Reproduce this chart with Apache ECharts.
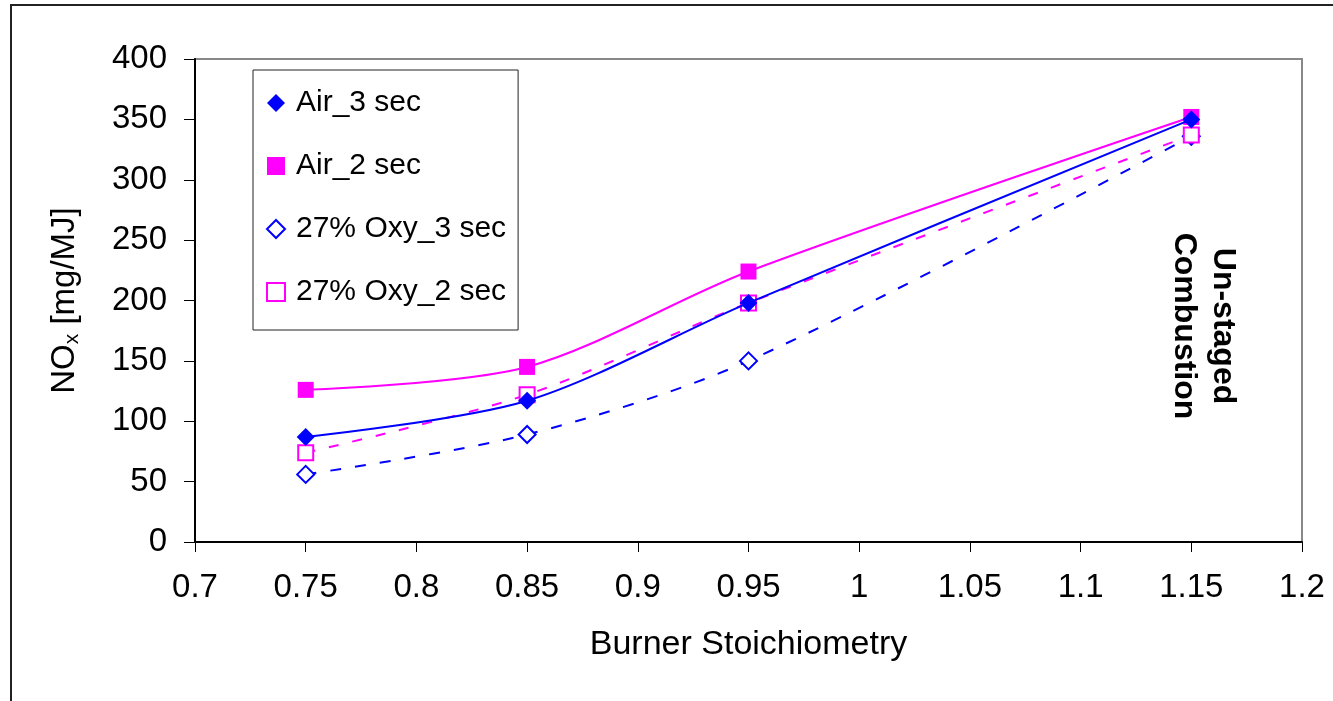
<!DOCTYPE html>
<html>
<head>
<meta charset="utf-8">
<script src="https://cdn.jsdelivr.net/npm/echarts@6/dist/echarts.min.js"></script>
<style>
html, body { margin: 0; padding: 0; background: #fff; }
#main { width: 1333px; height: 701px; }
</style>
</head>
<body>
<div id="main"></div>
<script>
// burner stoichiometry (x) and NOx in mg/MJ
var stoich = [0.75, 0.85, 0.95, 1.15];
var air3 = [87, 117, 198, 350];
var air2 = [126, 145, 224, 352];
var oxy3 = [56, 89, 150, 336];
var oxy2 = [74, 122, 198, 337];
var names = ['Air_3 sec', 'Air_2 sec', '27% Oxy_3 sec', '27% Oxy_2 sec'];

var BLUE = '#0000ff';
var PINK = '#ff00ff';
var FONT = '"Liberation Sans", Arial, sans-serif';
var SMOOTH = 0.3;

function pairs(ys) {
    var out = [];
    for (var i = 0; i < stoich.length; i++) out.push([stoich[i], ys[i]]);
    return out;
}

var chart = echarts.init(document.getElementById('main'));
option = {
    backgroundColor: '#fff',
    animation: false,
    textStyle: { fontFamily: FONT },
    grid: {
        left: 195,
        top: 59,
        right: 31,
        bottom: 159,
        show: true,
        borderColor: '#888',
        borderWidth: 2,
        backgroundColor: '#fff'
    },
    legend: {
        orient: 'vertical',
        left: 253,
        top: 70,
        backgroundColor: '#fff',
        borderColor: '#222',
        borderWidth: 1,
        padding: [18, 12, 23, 13],
        itemGap: 33,
        itemWidth: 18,
        itemHeight: 18,
        textStyle: { fontSize: 30, lineHeight: 30, color: '#000', fontFamily: FONT, padding: [0, 0, 0, 6] },
        data: [
            { name: names[0], icon: 'diamond', itemStyle: { color: BLUE } },
            { name: names[1], icon: 'rect', itemStyle: { color: PINK } },
            { name: names[2], icon: 'diamond', itemStyle: { color: '#fff', borderColor: BLUE, borderWidth: 2 } },
            { name: names[3], icon: 'rect', itemStyle: { color: '#fff', borderColor: PINK, borderWidth: 2 } }
        ]
    },
    xAxis: {
        type: 'value',
        min: 0.7,
        max: 1.2,
        interval: 0.05,
        name: 'Burner Stoichiometry',
        nameLocation: 'middle',
        nameGap: 86,
        nameTextStyle: { fontSize: 34, color: '#000' },
        axisLine: { show: true, onZero: false, lineStyle: { color: '#000', width: 2 } },
        axisTick: { show: true, inside: false, length: 10, lineStyle: { color: '#000', width: 1 } },
        axisLabel: {
            fontSize: 33,
            color: '#000',
            margin: 29,
            formatter: function (v) { return String(parseFloat(v.toFixed(2))); }
        },
        splitLine: { show: false }
    },
    yAxis: {
        type: 'value',
        min: 0,
        max: 400,
        interval: 50,
        name: '{a|NO}{b|x}{a| [mg/MJ]}',
        nameLocation: 'middle',
        nameGap: 112,
        nameTextStyle: {
            color: '#000',
            rich: {
                a: { fontSize: 33, lineHeight: 36, color: '#000', fontFamily: FONT },
                b: { fontSize: 21, lineHeight: 36, color: '#000', fontFamily: FONT, verticalAlign: 'bottom' }
            }
        },
        axisLine: { show: true, lineStyle: { color: '#000', width: 2 } },
        axisTick: { show: true, inside: false, length: 11, lineStyle: { color: '#000', width: 1 } },
        axisLabel: { fontSize: 33, color: '#000', margin: 28 },
        splitLine: { show: false }
    },
    graphic: [
        {
            type: 'rect',
            silent: true,
            shape: { x: 11, y: 5, width: 1340, height: 710 },
            style: { fill: 'none', stroke: '#222', lineWidth: 2 },
            z: -10
        },
        {
            type: 'text',
            x: 1203,
            y: 326,
            rotation: -Math.PI / 2,
            style: {
                text: 'Un-staged\nCombustion',
                fontFamily: FONT,
                fontWeight: 'bold',
                fontSize: 32,
                lineHeight: 39,
                fill: '#000',
                align: 'center',
                verticalAlign: 'middle'
            },
            z: 100
        }
    ],
    series: [
        {
            name: names[2],
            type: 'line',
            smooth: SMOOTH,
            data: pairs(oxy3),
            symbol: 'emptyDiamond',
            symbolSize: 17,
            itemStyle: { color: BLUE, borderWidth: 2 },
            lineStyle: { color: BLUE, width: 2, type: [11, 14] },
            z: 2
        },
        {
            name: names[3],
            type: 'line',
            smooth: SMOOTH,
            data: pairs(oxy2),
            symbol: 'emptyRect',
            symbolSize: 15,
            itemStyle: { color: PINK, borderWidth: 2 },
            lineStyle: { color: PINK, width: 2, type: [10, 14] },
            z: 2
        },
        {
            name: names[1],
            type: 'line',
            smooth: SMOOTH,
            data: pairs(air2),
            symbol: 'rect',
            symbolSize: 16,
            itemStyle: { color: PINK },
            lineStyle: { color: PINK, width: 2 },
            z: 3
        },
        {
            name: names[0],
            type: 'line',
            smooth: SMOOTH,
            data: pairs(air3),
            symbol: 'diamond',
            symbolSize: 18,
            itemStyle: { color: BLUE },
            lineStyle: { color: BLUE, width: 2 },
            z: 4
        }
    ]
};
chart.setOption(option);
</script>
</body>
</html>
